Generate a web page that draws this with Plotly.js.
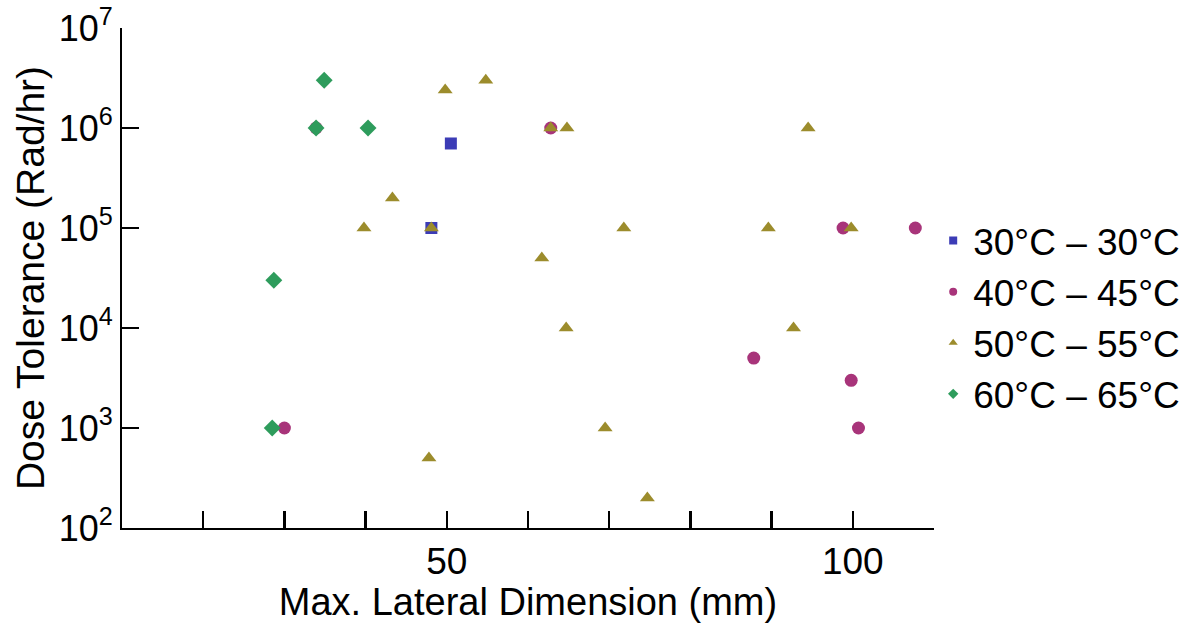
<!DOCTYPE html>
<html>
<head>
<meta charset="utf-8">
<script src="https://cdn.plot.ly/plotly-3.0.1.min.js"></script>
<style>html,body{margin:0;padding:0;background:#fff;}#chart{width:1200px;height:623px;}</style>
</head>
<body>
<div id="chart"></div>
<script>
// Series names
const seriesNames = ['30°C – 30°C', '40°C – 45°C', '50°C – 55°C', '60°C – 65°C'];

// 30°C – 30°C (squares)
const s30x = [50.5, 48.1];
const s30y = [7e5, 1e5];

// 40°C – 45°C (circles)
const s40x = [33.9, 62.8, 30.0, 87.8, 98.8, 107.7, 99.8, 100.7];
const s40y = [1e6, 1e6, 1e3, 5e3, 1e5, 1e5, 3e3, 1e3];

// 50°C – 55°C (triangles)
const s50x = [49.8, 54.8, 62.8, 64.8, 43.3, 39.8, 48.1, 61.7, 71.8, 64.7, 89.6, 92.7, 94.5, 99.8, 69.5, 47.8, 74.7];
const s50y = [2.4e6, 3e6, 1e6, 1e6, 2e5, 1e5, 1e5, 5e4, 1e5, 1e4, 1e5, 1e4, 1e6, 1e5, 1e3, 500, 200];

// 60°C – 65°C (diamonds)
const s60x = [34.9, 40.3, 33.9, 28.7, 28.5];
const s60y = [3e6, 1e6, 1e6, 3e4, 1e3];

// X tick positions and labels
const xTickVals = [20, 30, 40, 50, 60, 70, 80, 90, 100, 110];
const xTickText = ['', '', '', '50', '', '', '', '', '100', ''];
const yTickVals = [1e2, 1e3, 1e4, 1e5, 1e6, 1e7];
const yTickText = ['10<sup>2</sup>', '10<sup>3</sup>', '10<sup>4</sup>', '10<sup>5</sup>', '10<sup>6</sup>', '10<sup>7</sup>'];

const colors = ['#3c3cb6', '#a8347a', '#9c8c2c', '#2e9c5c'];
const symbols = ['square', 'circle', 'triangle-up', 'diamond'];
const sizes = [12, 13, 13, 13];
const xs = [s30x, s40x, s50x, s60x];
const ys = [s30y, s40y, s50y, s60y];

const traces = [];
for (let i = 0; i < 4; i++) {
  traces.push({
    type: 'scatter', mode: 'markers', x: xs[i], y: ys[i], name: seriesNames[i],
    showlegend: false,
    marker: {symbol: symbols[i], color: colors[i], size: sizes[i], line: {width: 0}}
  });
}
// legend proxies (small markers)
for (let i = 0; i < 4; i++) {
  traces.push({
    type: 'scatter', mode: 'markers', x: [null], y: [null], name: seriesNames[i],
    showlegend: true, legendgroup: 'g' + i,
    marker: {symbol: symbols[i], color: colors[i], size: 8, line: {width: 0}}
  });
}

const fontFam = '"Liberation Sans", Arial, sans-serif';
const layout = {
  width: 1200, height: 623,
  margin: {l: 122, r: 266, t: 28, b: 95},
  paper_bgcolor: '#fff', plot_bgcolor: '#fff',
  font: {family: fontFam, color: '#000', size: 30},
  showlegend: true,
  legend: {x: 0.999, y: 0.636, xanchor: 'left', yanchor: 'top', font: {size: 37, color: '#000'},
           itemwidth: 30, tracegroupgap: 0, bgcolor: 'rgba(0,0,0,0)'},
  xaxis: {
    range: [10, 110], showline: true, linecolor: '#000', linewidth: 2,
    tickmode: 'array', tickvals: xTickVals, ticktext: xTickText,
    ticks: 'inside', ticklen: 17, tickwidth: 2.5, tickcolor: '#000',
    showgrid: false, zeroline: false, mirror: false,
    tickfont: {size: 37, color: '#000'},
    title: {text: 'Max. Lateral Dimension (mm)', font: {size: 38, color: '#000'}, standoff: 2}
  },
  yaxis: {
    type: 'log', range: [2, 7], showline: true, linecolor: '#000', linewidth: 2,
    tickmode: 'array', tickvals: yTickVals, ticktext: yTickText,
    ticks: 'inside', ticklen: 17, tickwidth: 2.5, tickcolor: '#000',
    showgrid: false, zeroline: false,
    tickfont: {size: 36, color: '#000'},
    title: {text: 'Dose Tolerance (Rad/hr)', font: {size: 39, color: '#000'}, standoff: 2}
  }
};

Plotly.newPlot('chart', traces, layout, {displayModeBar: false, staticPlot: true});
</script>
</body>
</html>
